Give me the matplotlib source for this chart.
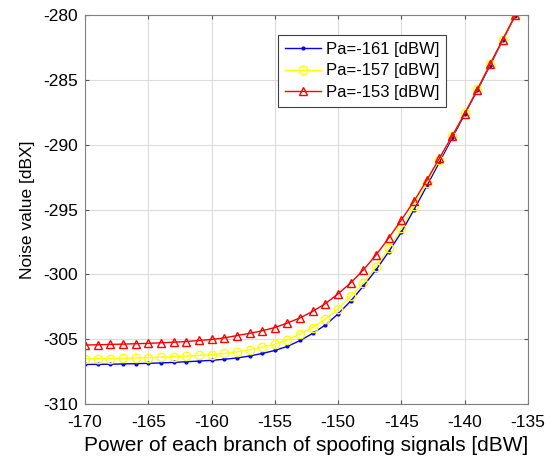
import numpy as np
import matplotlib
matplotlib.use("Agg")
import matplotlib.pyplot as plt

plt.rcParams["font.family"] = ["Liberation Sans", "DejaVu Sans"]
plt.rcParams["axes.unicode_minus"] = False

# ----------------------------- data -----------------------------
power = list(range(-170, -135))  # -170 ... -136 dBW

noise_161 = [-306.95, -306.94, -306.93, -306.91, -306.89, -306.86, -306.83, -306.79,
             -306.74, -306.69, -306.63, -306.55, -306.45, -306.30, -306.10, -305.87,
             -305.55, -305.10, -304.55, -303.90, -303.05, -302.05, -300.90, -299.65,
             -298.25, -296.75, -295.00, -293.20, -291.35, -289.50, -287.65, -285.80,
             -283.90, -281.95, -280.05]
noise_157 = [-306.52, -306.50, -306.49, -306.47, -306.45, -306.42, -306.39, -306.35,
             -306.30, -306.25, -306.20, -306.10, -305.98, -305.82, -305.63, -305.40,
             -305.05, -304.60, -304.10, -303.45, -302.65, -301.70, -300.65, -299.40,
             -298.00, -296.45, -294.75, -292.95, -291.15, -289.35, -287.55, -285.70,
             -283.80, -281.90, -280.00]
noise_153 = [-305.45, -305.43, -305.40, -305.38, -305.35, -305.32, -305.28, -305.23,
             -305.18, -305.10, -305.02, -304.90, -304.72, -304.55, -304.35, -304.10,
             -303.75, -303.35, -302.85, -302.25, -301.50, -300.65, -299.65, -298.50,
             -297.20, -295.80, -294.35, -292.75, -291.05, -289.35, -287.60, -285.75,
             -283.80, -281.90, -280.00]

labels = ["Pa=-161 [dBW]", "Pa=-157 [dBW]", "Pa=-153 [dBW]"]

# ----------------------------- plot -----------------------------
fig = plt.figure(figsize=(5.55, 4.63), dpi=100)
ax = fig.add_axes([0.1532, 0.1274, 0.798, 0.840])

ax.plot(power, noise_161, color="blue", lw=1.0, marker=".", ms=4, label=labels[0])
ax.plot(power, noise_157, color="yellow", lw=1.0, marker="o", ms=6, mfc="none", mew=1.0,
        label=labels[1])
ax.plot(power, noise_153, color="red", lw=1.0, marker="^", ms=6, mfc="none", mew=1.0,
        label=labels[2])

ax.set_xlim(-170, -135)
ax.set_ylim(-310, -280)
ax.set_xticks(np.arange(-170, -134, 5))
ax.set_yticks(np.arange(-310, -279, 5))
ax.grid(True, color="#dcdcdc", lw=0.8)
ax.set_axisbelow(True)
ax.tick_params(direction="in", top=True, right=True, labelsize=12.5, color="#555555",
               length=3, pad=5)
ax.tick_params(axis="x", pad=8)
for s in ax.spines.values():
    s.set_color("#808080")

ax.set_xlabel("Power of each branch of spoofing signals [dBW]", fontsize=15, labelpad=4)
ax.set_ylabel("Noise value [dBX]", fontsize=12.5, labelpad=6)

leg = ax.legend(loc="upper left", bbox_to_anchor=(0.4357, 0.9486), fontsize=12,
                fancybox=False, edgecolor="#404040", framealpha=1, handlelength=2.2,
                borderpad=0.4, labelspacing=0.4, handletextpad=0.3, borderaxespad=0)
leg.get_frame().set_linewidth(0.8)

fig.savefig("out.png", dpi=100)
